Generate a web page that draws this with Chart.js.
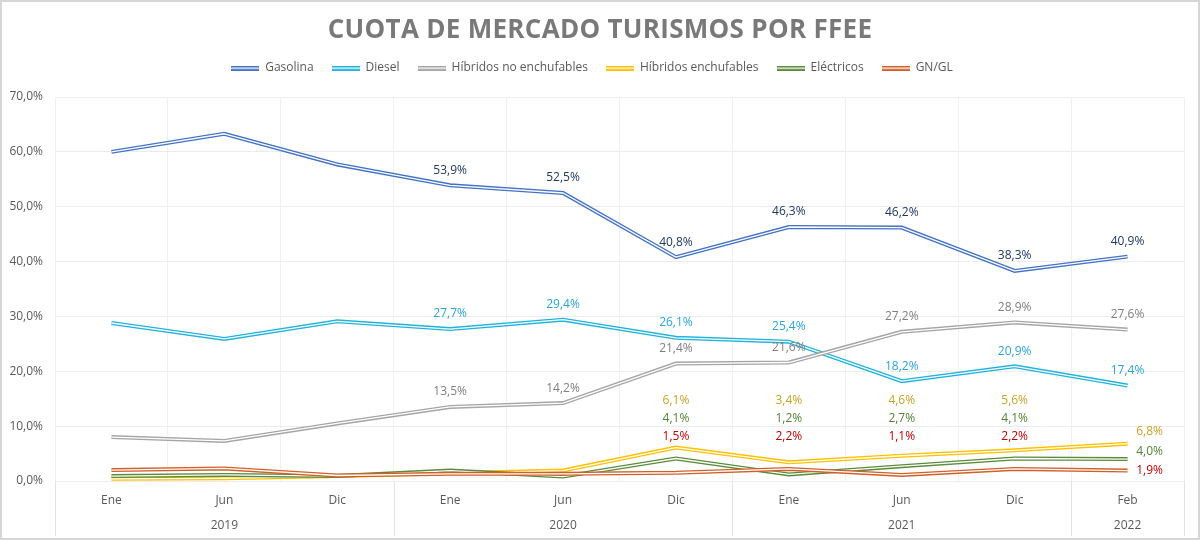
<!DOCTYPE html>
<html>
<head>
<meta charset="utf-8">
<title>Cuota de mercado turismos por FFEE</title>
<script src="https://cdn.jsdelivr.net/npm/chart.js@4/dist/chart.umd.min.js"></script>
<style>
  html, body { margin:0; padding:0; background:#fff; }
  #wrap { width:1200px; height:540px; }
</style>
</head>
<body>
<div id="wrap"><canvas id="chart" width="1200" height="540"></canvas></div>
<script>
// data
const months = ['Ene','Jun','Dic','Ene','Jun','Dic','Ene','Jun','Dic','Feb'];
const years = ['2019','2020','2021','2022'];
const yearSizes = [3, 3, 3, 1];

const gasolina    = [60.0, 63.3, 57.7, 53.9, 52.5, 40.8, 46.3, 46.2, 38.3, 40.9];
const diesel      = [28.8, 25.9, 29.1, 27.7, 29.4, 26.1, 25.4, 18.2, 20.9, 17.4];
const hibNoEnch   = [8.0, 7.3, 10.5, 13.5, 14.2, 21.4, 21.6, 27.2, 28.9, 27.6];
const hibEnch     = [0.4, 0.5, 0.9, 1.4, 1.9, 6.1, 3.4, 4.6, 5.6, 6.8];
const electricos  = [0.9, 1.1, 0.9, 1.9, 0.8, 4.1, 1.2, 2.7, 4.1, 4.0];
const gngl        = [2.0, 2.3, 1.0, 1.3, 1.3, 1.5, 2.2, 1.1, 2.2, 1.9];

const yTicks = [0, 10, 20, 30, 40, 50, 60, 70];

const TITLE = 'CUOTA DE MERCADO TURISMOS POR FFEE';

// month labels with the year under the middle month of each group
const xLabels = months.map(m => [m, '']);
let start = 0;
yearSizes.forEach((n, i) => {
  xLabels[start + Math.floor(n / 2)][1] = years[i];
  start += n;
});

const fmt = v => v.toFixed(1).replace('.', ',') + '%';

// double line icon for the legend
function lineIcon(color){
  const c = document.createElement('canvas');
  c.width = 28; c.height = 5;
  const g = c.getContext('2d');
  g.fillStyle = color; g.fillRect(0, 0, 28, 5);
  g.fillStyle = '#fff'; g.fillRect(0, 2, 28, 1.3);
  return c;
}

// lab: where the value labels go. 'above' = over the point, 'row' = fixed row above baseline
const series = [
  { label:'Gasolina', data:gasolina, color:'#4472c4', text:'#1f3864', from:3, lab:'above' },
  { label:'Diesel', data:diesel, color:'#22b3dc', text:'#2ba5d6', from:3, lab:'above' },
  { label:'Híbridos no enchufables', data:hibNoEnch, color:'#a5a5a5', text:'#7f7f7f', from:3, lab:'above' },
  { label:'Híbridos enchufables', data:hibEnch, color:'#ffc000', text:'#c9a227', from:5, lab:'row', row:80, last:[22,-12] },
  { label:'Eléctricos', data:electricos, color:'#5a8a3a', text:'#548235', from:5, lab:'row', row:62, last:[22,-7] },
  { label:'GN/GL', data:gngl, color:'#d0602a', text:'#c00000', from:5, lab:'row', row:44, last:[22,0] }
];

const FONT = '"Open Sans", sans-serif';

// white centre stroke to fake the Excel "double" line
const doubleLine = {
  id:'doubleLine',
  afterDatasetDraw(chart, args){
    const pts = args.meta.data;
    const ctx = chart.ctx;
    ctx.save();
    ctx.beginPath();
    pts.forEach((p, i) => i ? ctx.lineTo(p.x, p.y) : ctx.moveTo(p.x, p.y));
    ctx.strokeStyle = '#fff';
    ctx.lineWidth = 1.3;
    ctx.lineJoin = 'round';
    ctx.stroke();
    ctx.restore();
  }
};

const valueLabels = {
  id:'valueLabels',
  afterDatasetsDraw(chart){
    const ctx = chart.ctx;
    const y0 = chart.scales.y.getPixelForValue(0);
    ctx.save();
    ctx.font = '12px ' + FONT;
    ctx.textAlign = 'center';
    ctx.textBaseline = 'middle';
    series.forEach((s, di) => {
      const meta = chart.getDatasetMeta(di);
      ctx.fillStyle = s.text;
      s.data.forEach((v, i) => {
        if (i < s.from) return;
        const p = meta.data[i];
        let x = p.x, y = p.y - 15;
        if (s.lab === 'row') {
          if (i === s.data.length - 1) { x = p.x + s.last[0]; y = p.y + s.last[1]; }
          else y = y0 - s.row;
        }
        ctx.fillText(fmt(v), x, y);
      });
    });
    ctx.restore();
  }
};

// title, frame and year separators under the axis
const frame = {
  id:'frame',
  beforeUpdate(chart){
    // extra room between legend and plot
    const lg = chart.legend;
    if (lg && !lg._patched) {
      const fit = lg.fit;
      lg.fit = function(){ fit.call(this); this.height += 13; };
      lg._patched = true;
    }
  },
  beforeDraw(chart){
    const ctx = chart.ctx;
    ctx.save();
    ctx.fillStyle = '#fff';
    ctx.fillRect(0, 0, chart.width, chart.height);
    ctx.font = 'bold 26px ' + FONT;
    ctx.letterSpacing = '0.3px';
    ctx.fillStyle = '#797979';
    ctx.textAlign = 'center';
    ctx.textBaseline = 'middle';
    ctx.fillText(TITLE, chart.width / 2, 31);
    ctx.restore();
  },
  afterDraw(chart){
    const ctx = chart.ctx, xs = chart.scales.x, area = chart.chartArea;
    const half = (xs.getPixelForTick(1) - xs.getPixelForTick(0)) / 2;
    ctx.save();
    ctx.strokeStyle = '#e3e3e3';
    ctx.lineWidth = 1;
    let idx = 0;
    const bounds = [];
    yearSizes.forEach(n => { bounds.push(idx); idx += n; });
    bounds.push(idx);
    bounds.forEach(b => {
      const x = Math.round(b < months.length ? xs.getPixelForTick(b) - half : xs.getPixelForTick(b - 1) + half) + 0.5;
      ctx.beginPath();
      ctx.moveTo(x, area.bottom);
      ctx.lineTo(x, chart.height - 4);
      ctx.stroke();
    });
    ctx.strokeStyle = '#d6d6d6';
    ctx.lineWidth = 2;
    ctx.strokeRect(1, 1, chart.width - 2, chart.height - 2);
    ctx.restore();
  }
};

const ctx = document.getElementById('chart').getContext('2d');
new Chart(ctx, {
  type:'line',
  data:{
    labels:xLabels,
    datasets:series.map((s, i) => ({
      label:s.label,
      data:s.data,
      borderColor:s.color,
      backgroundColor:s.color,
      borderWidth:4,
      pointRadius:0,
      pointHoverRadius:0,
      tension:0,
      order:series.length - i,
      pointStyle:lineIcon(s.color)
    }))
  },
  options:{
    responsive:false,
    animation:false,
    layout:{ padding:{ left:0, right:16, top:44, bottom:0 } },
    plugins:{
      title:{ display:false },
      legend:{
        display:true,
        labels:{
          usePointStyle:true,
          pointStyleWidth:28,
          color:'#595959',
          font:{ family:FONT, size:12 },
          padding:18,
          sort:(a, b) => a.datasetIndex - b.datasetIndex,
          generateLabels(chart){
            const items = Chart.defaults.plugins.legend.labels.generateLabels(chart);
            items.forEach(it => { it.pointStyle = lineIcon(series[it.datasetIndex].color); });
            return items;
          }
        }
      },
      tooltip:{ enabled:false }
    },
    scales:{
      y:{
        min:0, max:70,
        afterBuildTicks(scale){ scale.ticks = yTicks.map(v => ({ value:v })); },
        afterFit(scale){ scale.width = 55; },
        border:{ display:false },
        grid:{ color:'#ececec', drawTicks:false },
        ticks:{
          padding:12,
          color:'#595959',
          font:{ family:FONT, size:12 },
          callback:v => fmt(v)
        }
      },
      x:{
        offset:true,
        afterFit(scale){ scale.height = 59; },
        border:{ display:false },
        grid:{ offset:true, color:'#f0f0f0', drawTicks:false },
        ticks:{
          padding:7,
          color:'#595959',
          maxRotation:0,
          autoSkip:false,
          font:{ family:FONT, size:12, lineHeight:2.1 }
        }
      }
    }
  },
  plugins:[frame, doubleLine, valueLabels]
});
</script>
</body>
</html>
